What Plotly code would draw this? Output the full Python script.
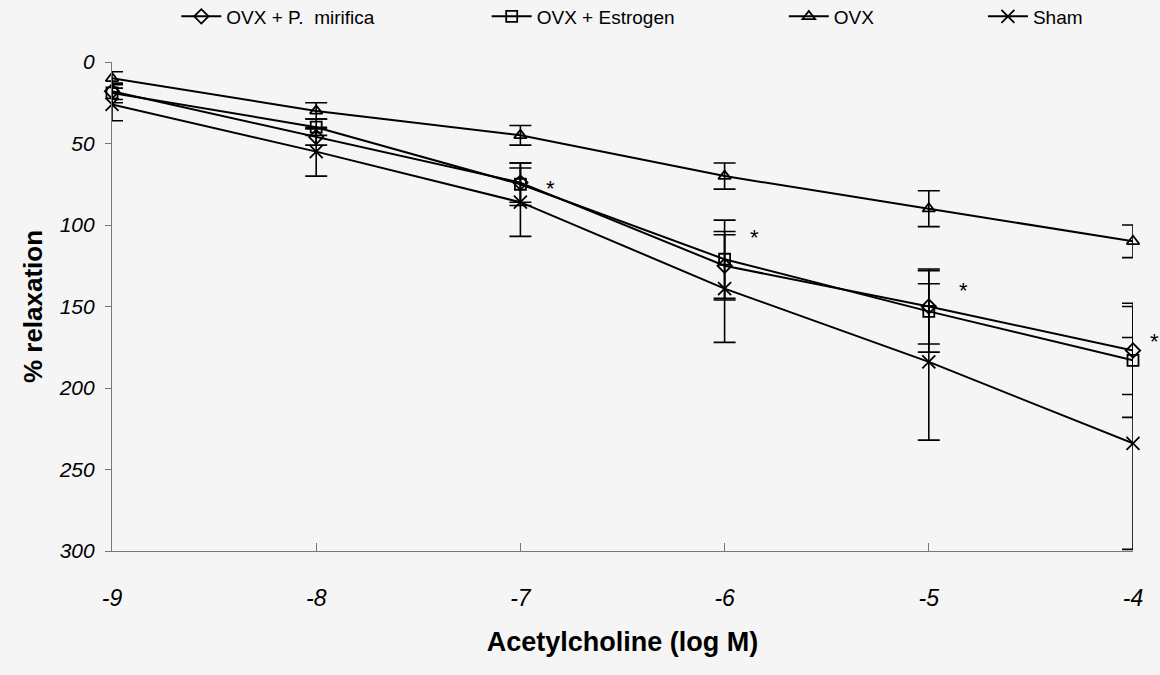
import plotly.graph_objects as go

x_vals = [-9, -8, -7, -6, -5, -4]
tick_vals_y = [0, 50, 100, 150, 200, 250, 300]

names = ["OVX + P.  mirifica", "OVX + Estrogen", "OVX", "Sham"]
symbols = ["diamond-open", "square-open", "triangle-up-open", "x-thin-open"]

pm_mean = [18, 46, 74, 125, 150, 177]
pm_se = [5, 5, 12, 21, 23, 27]
est_mean = [19, 40, 75, 121, 153, 183]
est_se = [6, 5, 13, 24, 25, 35]
ovx_mean = [10, 30, 45, 70, 90, 110]
ovx_se = [4, 5, 6, 8, 11, 10]
sham_mean = [26, 55, 86, 139, 184, 234]
sham_se = [10, 15, 21, 33, 48, 65]

star_x = [-7, -6, -5, -4]
star_y = [75, 105, 138, 169]
star_dx = [30, 30, 35, 21]

means = [pm_mean, est_mean, ovx_mean, sham_mean]
ses = [pm_se, est_se, ovx_se, sham_se]
legend_ids = ["legend", "legend2", "legend3", "legend4"]
legend_x = [0.063, 0.367, 0.658, 0.853]

fig = go.Figure()
for i in range(4):
    fig.add_trace(go.Scatter(
        x=x_vals, y=means[i], name=names[i], mode="lines+markers",
        line=dict(color="black", width=2),
        marker=dict(symbol=symbols[i], size=11 if i != 3 else 13, color="black",
                    line=dict(color="black", width=1.8)),
        error_y=dict(type="data", array=ses[i], visible=True, color="black",
                     thickness=1.6, width=11),
        legend=legend_ids[i], cliponaxis=False,
    ))

for sx, sy, dx in zip(star_x, star_y, star_dx):
    fig.add_annotation(x=sx, y=sy, text="*", showarrow=False, xshift=dx, yshift=-4,
                       font=dict(family="Arial", size=22, color="black"))

layout_legends = {}
for i, lid in enumerate(legend_ids):
    layout_legends[lid] = dict(x=legend_x[i], y=1.093, xref="paper", yref="paper",
                               xanchor="left", yanchor="middle", orientation="h",
                               bgcolor="rgba(0,0,0,0)", itemwidth=40,
                               font=dict(family="Arial", size=19, color="black"))

fig.update_layout(
    width=1160, height=675,
    margin=dict(l=112, r=27, t=62, b=124, autoexpand=False),
    paper_bgcolor="#f5f5f5", plot_bgcolor="#f5f5f5",
    showlegend=True,
    **layout_legends,
    xaxis=dict(range=[-9, -4], tickvals=x_vals, ticktext=[str(v) for v in x_vals],
               showgrid=False, zeroline=False, showline=True, linecolor="#777777", linewidth=1.2,
               ticks="inside", ticklen=8, tickcolor="#777777", ticklabelstandoff=26,
               tickfont=dict(family="Arial", size=23, color="black", style="italic"),
               title=dict(text="<b>Acetylcholine (log M)</b>", standoff=22,
                          font=dict(family="Arial", size=27, color="black"))),
    yaxis=dict(range=[300, 0], tickvals=tick_vals_y,
               showgrid=False, zeroline=False, showline=True, linecolor="#777777", linewidth=1.2,
               ticks="outside", ticklen=6, tickcolor="#777777", ticklabelstandoff=6,
               tickfont=dict(family="Arial", size=21, color="black", style="italic"),
               title=dict(text="<b>% relaxation</b>", standoff=8,
                          font=dict(family="Arial", size=26, color="black"))),
)

fig.write_html("out.html", config={"displayModeBar": False},
               post_script="document.body.style.margin='0';document.body.style.background='#f5f5f5';")
